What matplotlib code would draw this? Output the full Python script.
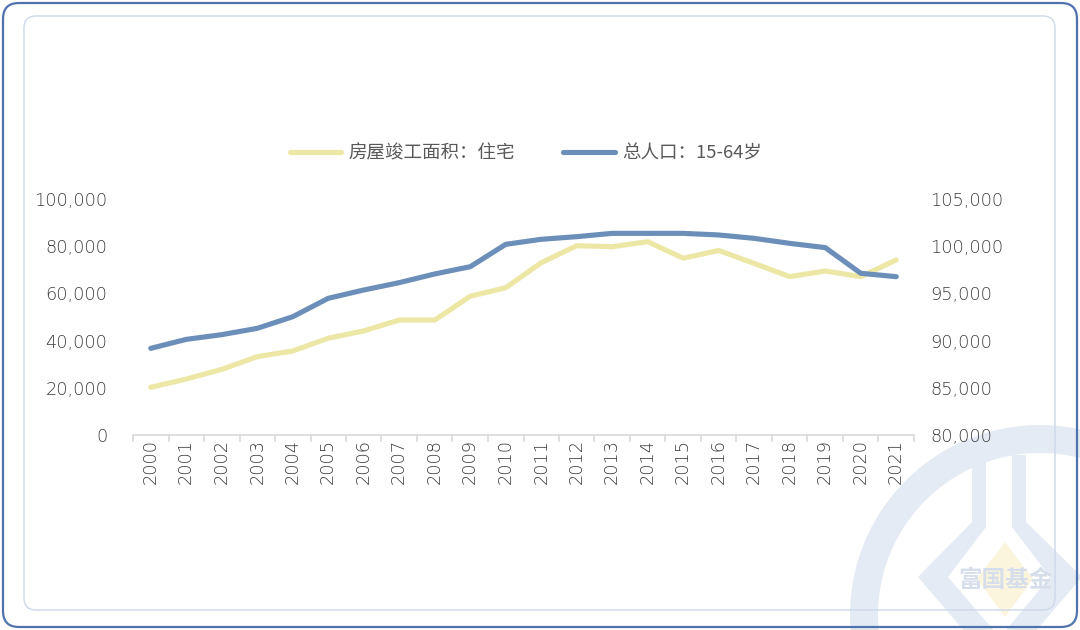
import matplotlib
matplotlib.use("Agg")
import matplotlib.pyplot as plt
from matplotlib.patches import FancyBboxPatch, Wedge, Polygon
from matplotlib.lines import Line2D
from matplotlib.ticker import FuncFormatter, FixedLocator

plt.rcParams['font.family'] = ['DejaVu Sans', 'Noto Sans CJK SC']

years = [str(y) for y in range(2000, 2022)]
completed_area = [20200, 23700, 27800, 33200, 35600, 41000, 44100, 48700, 48700, 58800,
                  62400, 73000, 80200, 79800, 81900, 74900, 78200, 72700, 67100, 69500,
                  67100, 74200]
pop_15_64 = [89180, 90130, 90630, 91300, 92530, 94480, 95360, 96140, 97060, 97830,
             100200, 100730, 101010, 101360, 101360, 101360, 101190, 100830, 100300, 99850,
             97130, 96770]
label_area = "房屋竣工面积：住宅"
label_pop = "总人口：15-64岁"

YELLOW = "#ede7a5"
BLUE = "#6b8fb8"
TXT = "#3c3c3c"
LEG_TXT = "#595959"
FS = 12.8

W, H = 1080, 630
fig = plt.figure(figsize=(W / 100, H / 100), dpi=100)
fig.patch.set_facecolor("white")

def fx(px):
    return px / W

def fy(py):
    return 1 - py / H

# --- watermark (background) ---
wm = fig.add_axes([0, 0, 1, 1], zorder=0)
wm.set_xlim(0, W)
wm.set_ylim(H, 0)
wm.axis("off")
wmc = "#e5ebf4"
wm.add_patch(Wedge((1040, 615), 190, 0, 360, width=28, facecolor=wmc, edgecolor="none"))
# inner legs
wm.add_patch(Polygon([(972, 455), (986, 455), (986, 527), (948, 577), (1002, 640),
                      (972, 640), (918, 577), (972, 522)], closed=True, facecolor=wmc, edgecolor="none"))
wm.add_patch(Polygon([(1012, 455), (1026, 455), (1026, 522), (1082, 577), (1028, 640),
                      (998, 640), (1050, 577), (1012, 527)], closed=True, facecolor=wmc, edgecolor="none"))
wm.add_patch(Polygon([(1005, 542), (1033, 579), (1005, 617), (977, 579)], closed=True,
                     facecolor="#fcf5dd", edgecolor="none"))
wm.text(1005, 580, "富国基金", ha="center", va="center", fontsize=17, color="#d6deeb",
        fontweight="bold", family=["Noto Sans CJK SC"])

# borders
wm.add_patch(FancyBboxPatch((3, 3), W - 6, H - 6, boxstyle="round,pad=0,rounding_size=16",
                            facecolor="none", edgecolor="#4f74ad", lw=1.6))
wm.add_patch(FancyBboxPatch((24, 16), 1031, 594, boxstyle="round,pad=0,rounding_size=12",
                            facecolor="none", edgecolor="#cdd8ea", lw=1.0))

# --- main axes ---
left, right, top, bottom = 133, 914, 199, 435
ax = fig.add_axes([fx(left), fy(bottom), fx(right - left), (bottom - top) / H], zorder=2)
ax.patch.set_alpha(0)
x = list(range(len(years)))
ax.plot(x, completed_area, color=YELLOW, lw=3.7, solid_capstyle="round", solid_joinstyle="round",
        label=label_area, zorder=3)
ax.set_xlim(-0.5, len(years) - 0.5)
ax.set_ylim(0, 100000)
ax.yaxis.set_major_locator(FixedLocator([0, 20000, 40000, 60000, 80000, 100000]))
fmt = FuncFormatter(lambda v, p: f"{int(v):,}")
ax.yaxis.set_major_formatter(fmt)

ax2 = ax.twinx()
ax2.plot(x, pop_15_64, color=BLUE, lw=3.7, solid_capstyle="round", solid_joinstyle="round",
         label=label_pop, zorder=4)
ax2.set_ylim(80000, 105000)
ax2.yaxis.set_major_locator(FixedLocator([80000, 85000, 90000, 95000, 100000, 105000]))
ax2.yaxis.set_major_formatter(fmt)
ax2.set_xlim(-0.5, len(years) - 0.5)

for a in (ax, ax2):
    for s in a.spines.values():
        s.set_visible(False)
    a.tick_params(axis="y", length=0, labelsize=FS, labelcolor=TXT)
ax.tick_params(axis="y", pad=18.5)
ax2.tick_params(axis="y", pad=11.5)
ax.spines["bottom"].set_visible(True)
ax.spines["bottom"].set_color("#d9d9d9")
ax.spines["bottom"].set_linewidth(1.2)

ax.set_xticks(x)
ax.set_xticklabels(years, rotation=90)
ax.set_xticks([i - 0.5 for i in range(len(years) + 1)], minor=True)
ax.tick_params(axis="x", which="major", length=0, labelsize=FS, labelcolor=TXT, pad=3)
ax.tick_params(axis="x", which="minor", length=5, width=1.2, color="#d9d9d9")
ax2.tick_params(axis="x", which="both", length=0, labelbottom=False)

for lbl in ax.get_xticklabels() + ax.get_yticklabels() + ax2.get_yticklabels():
    lbl.set_fontweight("light")

# legend
h1 = Line2D([], [], color=YELLOW, lw=3.7, solid_capstyle="round")
h2 = Line2D([], [], color=BLUE, lw=3.7, solid_capstyle="round")
leg = fig.legend([h1, h2], [label_area, label_pop], loc="center", bbox_to_anchor=(fx(526), fy(153)),
                 ncol=2, frameon=False, handlelength=2.8, handletextpad=0.4,
                 columnspacing=2.6, labelcolor=LEG_TXT,
                 prop={"family": ["Noto Sans CJK SC", "DejaVu Sans"], "size": 13.3})

fig.savefig("out.png", dpi=100, facecolor="white")
